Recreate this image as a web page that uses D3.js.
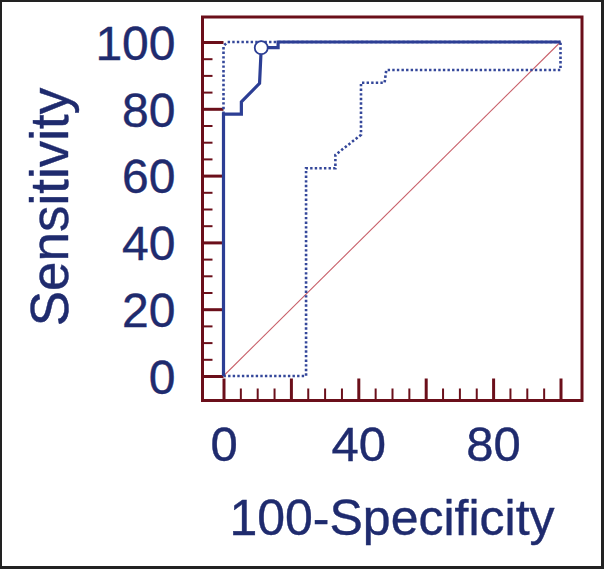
<!DOCTYPE html>
<html>
<head>
<meta charset="utf-8">
<script src="https://cdn.jsdelivr.net/npm/d3@7"></script>
<style>
  body { margin: 0; background: #fff; }
  svg { display: block; }
</style>
</head>
<body>
<div id="chart"></div>
<script>
// ROC curve data (100-Specificity, Sensitivity)
const solidX = [0, 0, 5.3, 5.3, 10.7, 11.2, 16.2, 16.2, 100];
const solidY = [0, 78.4, 78.4, 82.1, 87.6, 98.3, 98.3, 100, 100];

const upperDotX = [0, 0, 1.2, 100];
const upperDotY = [0, 98.8, 100, 100];

const lowerDotX = [0, 24.5, 24.5, 33.2, 33.2, 40.8, 40.8, 47.8, 48.3, 100, 100];
const lowerDotY = [0, 0, 62.2, 62.2, 66.2, 72.2, 87.8, 87.8, 91.6, 91.6, 100];

const cutX = [11.2];
const cutY = [98.3];

const diagX = [0, 100];
const diagY = [0, 100];

const xTicks = [0, 20, 40, 60, 80, 100];
const xLabels = ["0", "", "40", "", "80", ""];
const yTicks = [0, 20, 40, 60, 80, 100];

const W = 604, H = 569;
const textCol = "#1f2b6e";
const frameCol = "#6b0f1a";
const lineCol = "#2c3e94";
const font = "'Liberation Sans', Arial, sans-serif";

const svg = d3.select("#chart").append("svg")
  .attr("width", W).attr("height", H);

// outer dark border
svg.append("rect").attr("width", W).attr("height", H).attr("fill", "#222");
svg.append("rect").attr("x", 2).attr("y", 2).attr("width", W - 5).attr("height", H - 5).attr("fill", "#fff");

const x = d3.scaleLinear().domain([0, 100]).range([223.5, 560.5]);
const y = d3.scaleLinear().domain([0, 100]).range([376, 42]);

const frame = { left: 202.5, top: 17, right: 582, bottom: 400.5 };

// minor ticks (every 5)
const minor = d3.range(0, 101, 5).filter(d => d % 20 !== 0);

const gx = svg.append("g").attr("transform", `translate(0,${frame.bottom})`);
gx.call(d3.axisBottom(x).tickValues(minor).tickSize(-12).tickSizeOuter(0).tickFormat(""));
gx.call(g => g.selectAll(".tick line").attr("stroke", frameCol).attr("stroke-width", 2));
const gx2 = svg.append("g").attr("transform", `translate(0,${frame.bottom})`);
gx2.call(d3.axisBottom(x).tickValues(xTicks).tickSize(-22).tickSizeOuter(0)
  .tickFormat((d, i) => xLabels[i]));
gx2.selectAll(".tick line").attr("stroke", frameCol).attr("stroke-width", 3);
gx2.selectAll(".tick text")
  .attr("y", 60).attr("dy", 0)
  .attr("fill", textCol).attr("font-family", font).attr("font-size", 49)
  .attr("stroke", textCol).attr("stroke-width", 0.4);
svg.selectAll(".domain").remove();

const gy = svg.append("g").attr("transform", `translate(${frame.left},0)`);
gy.call(d3.axisLeft(y).tickValues(minor).tickSize(-10).tickSizeOuter(0).tickFormat(""));
gy.selectAll(".tick line").attr("stroke", frameCol).attr("stroke-width", 2);
const gy2 = svg.append("g").attr("transform", `translate(${frame.left},0)`);
gy2.call(d3.axisLeft(y).tickValues(yTicks).tickSize(-21).tickSizeOuter(0).tickPadding(27));
gy2.selectAll(".tick line").attr("stroke", frameCol).attr("stroke-width", 3);
gy2.selectAll(".tick text")
  .attr("dy", "0.36em")
  .attr("fill", textCol).attr("font-family", font).attr("font-size", 48)
  .attr("stroke", textCol).attr("stroke-width", 0.4);
svg.selectAll(".domain").remove();

// frame
svg.append("rect")
  .attr("x", frame.left).attr("y", frame.top)
  .attr("width", frame.right - frame.left).attr("height", frame.bottom - frame.top)
  .attr("fill", "none").attr("stroke", frameCol).attr("stroke-width", 3);

const line = (xs, ys) => d3.line()(xs.map((v, i) => [x(v), y(ys[i])]));

// diagonal reference
svg.append("path").attr("d", line(diagX, diagY))
  .attr("fill", "none").attr("stroke", "#c8606a").attr("stroke-width", 1.1);

// dotted curves
[[upperDotX, upperDotY], [lowerDotX, lowerDotY]].forEach(([xs, ys]) => {
  svg.append("path").attr("d", line(xs, ys))
    .attr("fill", "none").attr("stroke", "#34479a")
    .attr("stroke-width", 2.6).attr("stroke-dasharray", "2.4,2.2");
});

// solid curve
svg.append("path").attr("d", line(solidX, solidY))
  .attr("fill", "none").attr("stroke", lineCol).attr("stroke-width", 3.2)
  .attr("stroke-linejoin", "miter");

// criterion point
svg.selectAll(".cut").data(cutX).enter().append("circle")
  .attr("cx", d => x(d)).attr("cy", (d, i) => y(cutY[i])).attr("r", 6.5)
  .attr("fill", "#fff").attr("stroke", lineCol).attr("stroke-width", 1.8);

// axis titles
svg.append("text")
  .attr("x", 392).attr("y", 535)
  .attr("text-anchor", "middle")
  .attr("fill", textCol).attr("font-family", font).attr("font-size", 50)
  .attr("stroke", textCol).attr("stroke-width", 0.4)
  .text("100-Specificity");

svg.append("text")
  .attr("transform", "translate(68,207) rotate(-90)")
  .attr("text-anchor", "middle")
  .attr("fill", textCol).attr("font-family", font).attr("font-size", 53)
  .attr("stroke", textCol).attr("stroke-width", 0.4)
  .text("Sensitivity");
</script>
</body>
</html>
